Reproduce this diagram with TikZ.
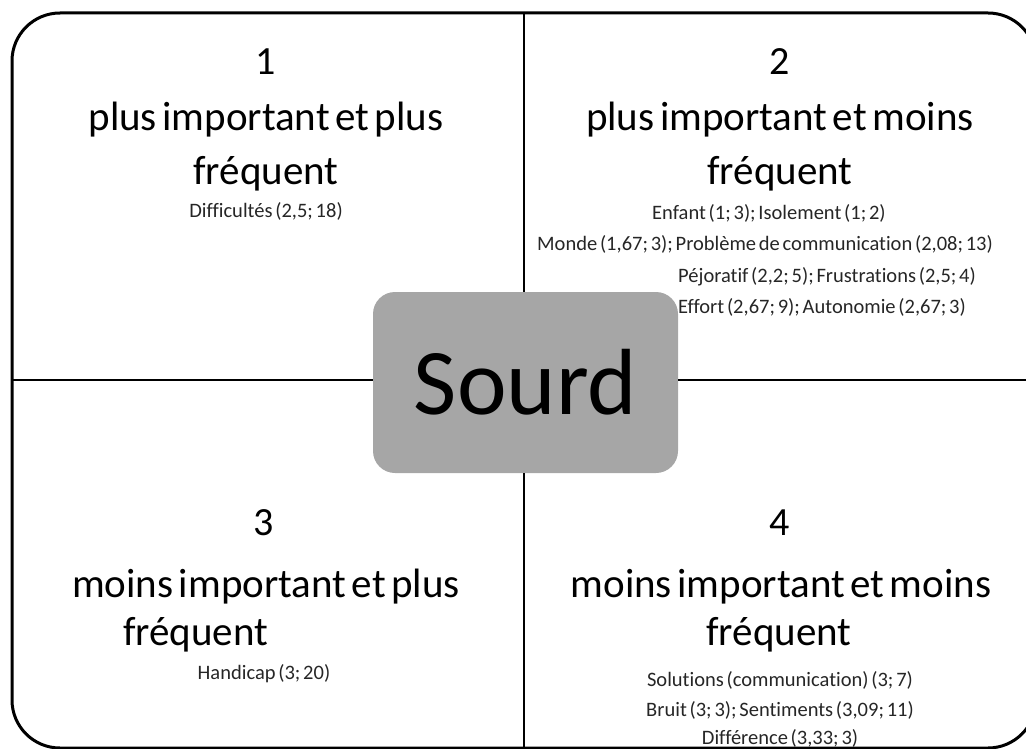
\documentclass[tikz,border=0pt]{standalone}
\usepackage{fontspec}
\setmainfont{Carlito}[Ligatures={NoCommon}, WordSpace=0.6]
\begin{document}
\begin{tikzpicture}[x=1pt,y=-1pt,
  frame/.style={line width=3pt, rounded corners=48pt},
  divider/.style={line width=2pt},
  center/.style={fill=sourdgray, rounded corners=22pt, minimum width=305pt, minimum height=181pt, inner sep=0pt, font=\fontsize{94}{100}\selectfont},
  numtxt/.style={anchor=base, inner sep=0pt, font=\fontsize{40}{44}\selectfont},
  title/.style={anchor=base, inner sep=0pt, font=\fontsize{41}{44}\selectfont},
  small/.style={anchor=base, inner sep=0pt, font=\fontsize{20.5}{22}\selectfont, text=black!85}]
\definecolor{sourdgray}{HTML}{A6A6A6}
\useasboundingbox (0,0) rectangle (1026,749);
\clip (0,0) rectangle (1026,749);
\draw[frame] (12,13) rectangle (1036,748);
\node[center] (sourd) at (525.5,382.5) {Sourd};
\coordinate (tT) at (524,13);
\coordinate (tB) at (524,748);
\coordinate (tL) at (12,380);
\coordinate (tR) at (1036,380);
\draw[divider] (tT) -- (tT |- sourd.north);
\draw[divider] (tB) -- (tB |- sourd.south);
\draw[divider] (tL) -- (tL -| sourd.west);
\draw[divider] (tR) -- (tR -| sourd.east);
% quadrant 1
\node[numtxt] (n1) at (266,75) {1};
\node[title] (t1a) at (266,131) {plus important et plus};
\node[title] (t1b) at (266,185) {fréquent};
\node[small] (s1) at (266,217) {Difficultés (2,5; 18)};
% quadrant 2
\node[numtxt] (n2) at (780,75) {2};
\node[title] (t2a) at (780,131) {plus important et moins};
\node[title] (t2b) at (780,185) {fréquent};
\node[small, anchor=base west] (s2a) at (652,219) {Enfant (1; 3); Isolement (1; 2)};
\node[small, anchor=base west] (s2b) at (537,251) {Monde (1,67; 3); Problème de communication (2,08; 13)};
\node[small, anchor=base west] (s2c) at (678,282) {Péjoratif (2,2; 5); Frustrations (2,5; 4)};
\node[small, anchor=base west] (s2d) at (678,313) {Effort (2,67; 9); Autonomie (2,67; 3)};
% quadrant 3
\node[numtxt] (n3) at (264,535) {3};
\node[title] (t3a) at (266,597) {moins important et plus};
\node[title, anchor=base west] (t3b) at (123,645) {fréquent};
\node[small] (s3) at (264,679) {Handicap (3; 20)};
% quadrant 4
\node[numtxt] (n4) at (780,535) {4};
\node[title] (t4a) at (781,597) {moins important et moins};
\node[title] (t4b) at (779,645) {fréquent};
\node[small] (s4a) at (780,686) {Solutions (communication) (3; 7)};
\node[small] (s4b) at (780,716) {Bruit (3; 3); Sentiments (3,09; 11)};
\node[small] (s4c) at (780,744) {Différence (3,33; 3)};
\end{tikzpicture}
\end{document}
